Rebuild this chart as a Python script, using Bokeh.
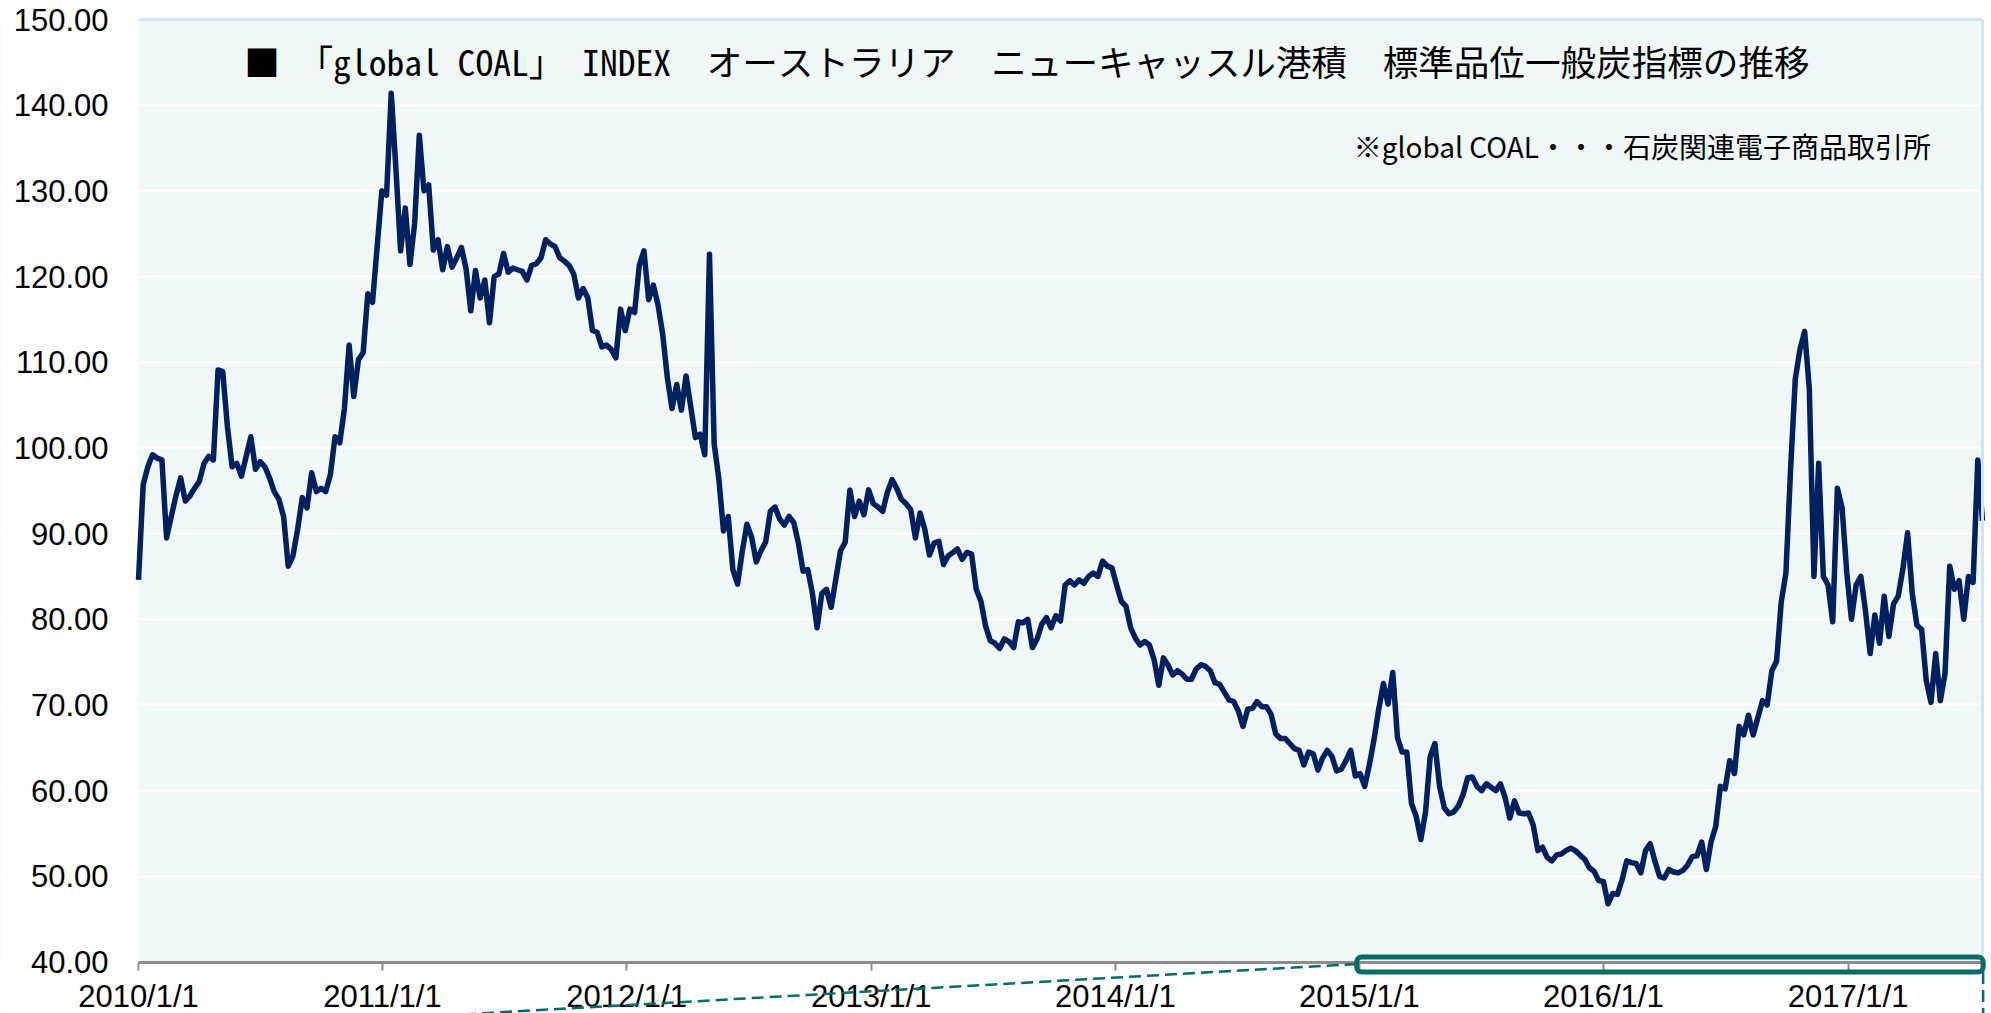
import pandas as pd
from bokeh.plotting import figure
from bokeh.models import Range1d, FixedTicker, Label, BoxAnnotation, Arrow
from bokeh.embed import file_html
from bokeh.resources import INLINE

# ---------------- data (weekly index, USD/t) ----------------
start_date = "2010-01-01"
index_values = [
    84.6, 95.7, 97.8, 99.2, 98.8, 98.6, 89.5, 92.0, 94.4, 96.5,
    93.8, 94.4, 95.3, 96.1, 98.2, 99.0, 98.6, 109.1, 108.9, 102.5,
    97.8, 98.2, 96.7, 99.0, 101.3, 97.5, 98.4, 97.8, 96.5, 94.9,
    94.0, 92.0, 86.2, 87.4, 90.5, 94.2, 93.0, 97.1, 94.9, 95.3,
    94.9, 96.9, 101.3, 100.6, 104.6, 112.0, 106.0, 110.3, 111.1, 118.0,
    117.0, 123.5, 130.0, 129.5, 141.4, 132.6, 123.0, 128.0, 121.4, 126.2,
    136.5, 130.0, 130.7, 123.1, 124.3, 120.8, 123.5, 121.1, 122.2, 123.4,
    120.9, 116.0, 120.7, 117.5, 119.6, 114.6, 120.0, 120.3, 122.7, 120.5,
    121.0, 120.8, 120.6, 119.6, 121.3, 121.5, 122.2, 124.3, 123.8, 123.5,
    122.2, 121.8, 121.3, 120.3, 117.5, 118.6, 117.5, 113.7, 113.5, 111.8,
    112.0, 111.5, 110.5, 116.2, 113.7, 116.2, 115.8, 121.3, 123.0, 117.3,
    119.0, 116.7, 113.3, 108.2, 104.6, 107.4, 104.4, 108.4, 104.8, 101.2,
    101.6, 99.2, 122.6, 100.5, 96.4, 90.3, 92.0, 85.8, 84.1, 87.9,
    91.1, 89.6, 86.7, 88.0, 89.0, 92.6, 93.1, 91.7, 91.0, 92.0,
    91.3, 88.9, 85.6, 85.8, 83.0, 79.0, 83.0, 83.5, 81.4, 84.7,
    88.0, 89.0, 95.1, 92.0, 93.8, 92.2, 95.1, 93.5, 93.1, 92.6,
    94.8, 96.3, 95.3, 94.0, 93.5, 92.8, 89.5, 92.4, 90.5, 87.5,
    88.9, 89.1, 86.4, 87.4, 87.8, 88.2, 87.0, 87.8, 87.6, 83.5,
    82.1, 79.2, 77.5, 77.2, 76.6, 77.7, 77.4, 76.7, 79.7, 79.6,
    80.0, 76.7, 77.7, 79.4, 80.2, 79.0, 80.4, 79.8, 84.0, 84.5,
    84.0, 84.6, 84.2, 85.0, 85.4, 85.0, 86.8, 86.2, 86.0, 84.0,
    82.1, 81.5, 79.0, 77.8, 77.0, 77.4, 77.0, 75.3, 72.3, 75.5,
    74.6, 73.5, 74.0, 73.6, 73.0, 73.0, 74.2, 74.7, 74.5, 74.0,
    72.6, 72.4, 71.5, 70.6, 70.4, 69.3, 67.5, 69.5, 69.6, 70.4,
    69.8, 69.8, 68.9, 66.6, 66.1, 66.1, 65.5, 64.9, 64.7, 63.0,
    64.5, 64.3, 62.4, 63.8, 64.7, 64.0, 62.3, 62.5, 63.5, 64.7,
    61.7, 62.0, 60.5, 63.0, 66.0, 69.5, 72.5, 70.1, 73.8, 66.2,
    64.5, 64.5, 58.5, 57.0, 54.3, 57.5, 64.0, 65.5, 60.5, 58.0,
    57.3, 57.5, 58.2, 59.5, 61.5, 61.6, 60.5, 60.0, 60.8, 60.4,
    60.0, 60.8, 59.2, 56.8, 58.8, 57.4, 57.3, 57.4, 56.0, 53.0,
    53.4, 52.2, 51.8, 52.5, 52.6, 53.0, 53.3, 53.0, 52.5, 52.0,
    51.0, 50.6, 49.5, 49.4, 46.8, 48.0, 47.9, 49.6, 51.8, 51.6,
    51.5, 50.4, 53.0, 53.8, 51.8, 50.0, 49.8, 50.8, 50.5, 50.4,
    50.7, 51.3, 52.3, 52.4, 54.0, 50.8, 54.0, 55.8, 60.5, 60.2,
    63.5, 62.0, 67.5, 66.5, 68.8, 66.5, 68.5, 70.5, 70.0, 74.0,
    75.1, 82.0, 85.4, 97.5, 108.0, 111.5, 113.6, 106.9, 85.0, 98.2,
    85.0, 84.0, 79.7, 95.3, 93.0, 85.5, 80.0, 84.0, 85.0, 81.0,
    76.0, 80.5, 77.2, 82.7, 78.0, 81.8, 82.7, 85.9, 90.1, 83.0,
    79.3, 78.8, 72.8, 70.3, 76.0, 70.5, 73.7, 86.2, 83.5, 84.5,
    80.0, 85.0, 84.3, 98.6, 91.5,
]

x_tick_dates = ["2010-01-01", "2011-01-01", "2012-01-01", "2013-01-01",
                "2014-01-01", "2015-01-01", "2016-01-01", "2017-01-01"]
x_tick_labels = ["2010/1/1", "2011/1/1", "2012/1/1", "2013/1/1",
                 "2014/1/1", "2015/1/1", "2016/1/1", "2017/1/1"]
y_ticks = [40, 50, 60, 70, 80, 90, 100, 110, 120, 130, 140, 150]
y_tick_labels = ["40.00", "50.00", "60.00", "70.00", "80.00", "90.00",
                 "100.00", "110.00", "120.00", "130.00", "140.00", "150.00"]

title_text = "■　「global COAL」 INDEX　オーストラリア　ニューキャッスル港積　標準品位一般炭指標の推移"
note_text = "※global COAL・・・石炭関連電子商品取引所"

DAY = 86400000.0


def ms(s):
    return pd.Timestamp(s).value / 1e6


dates = pd.date_range(start_date, periods=len(index_values), freq="7D")

# ---------------- figure (frame covers the whole canvas) ----------------
x0 = ms(start_date)
canvas_left = x0 - 206.4 * DAY        # canvas left edge
canvas_right = x0 + 2771.5 * DAY      # canvas right edge
plot_right = ms("2017-07-21")         # right edge of shaded plot area
y_bottom, y_top = 33.99, 152.22       # canvas bottom / top in data units

p = figure(width=1991, height=1013, x_axis_type="datetime",
           output_backend="svg", toolbar_location=None,
           x_range=Range1d(canvas_left, canvas_right),
           y_range=Range1d(y_bottom, y_top),
           min_border_left=0, min_border_right=0,
           min_border_top=0, min_border_bottom=0,
           background_fill_color="#eff8f7", border_fill_color="white",
           outline_line_color=None)

# white surround of the shaded plot area
for kw in (dict(top=40), dict(bottom=150), dict(right=x0), dict(left=plot_right)):
    p.add_layout(BoxAnnotation(fill_color="white", fill_alpha=1, line_alpha=0,
                               level="underlay", **kw))

p.line(dates, index_values, line_color="#002060", line_width=5.5,
       line_join="round")

# x axis drawn at y = 40
xa = p.xaxis[0]
xa.fixed_location = 40
xa.bounds = (x0, plot_right)
xa.ticker = FixedTicker(ticks=[ms(d) for d in x_tick_dates])
xa.major_label_overrides = {ms(d): lab for d, lab in zip(x_tick_dates, x_tick_labels)}
xa.axis_line_color = "#8c8c8c"
xa.axis_line_width = 3
xa.major_tick_line_color = "#8c8c8c"
xa.major_tick_line_width = 2
xa.major_tick_in = 0
xa.major_tick_out = 8
xa.minor_tick_line_color = None
xa.major_label_standoff = 9
xa.major_label_text_font = "Liberation Sans"
xa.major_label_text_font_size = "31px"
xa.major_label_text_color = "black"

# y axis drawn at x = 2010/1/1
ya = p.yaxis[0]
ya.fixed_location = x0
ya.bounds = (40, 150)
ya.ticker = FixedTicker(ticks=y_ticks)
ya.major_label_overrides = {v: lab for v, lab in zip(y_ticks, y_tick_labels)}
ya.axis_line_color = None
ya.major_tick_line_color = None
ya.minor_tick_line_color = None
ya.major_tick_in = 0
ya.major_tick_out = 0
ya.major_label_standoff = 30
ya.major_label_text_font = "Liberation Sans"
ya.major_label_text_font_size = "31px"
ya.major_label_text_color = "black"

p.xgrid.visible = False
p.ygrid.grid_line_color = "white"
p.ygrid.grid_line_width = 2.5

# light blue border of the plot area (top, right)
border = "#cfe6f5"
p.segment(x0=[x0], y0=[150], x1=[plot_right], y1=[150],
          line_color=border, line_width=3)
p.segment(x0=[plot_right], y0=[40], x1=[plot_right], y1=[150],
          line_color=border, line_width=3)

# title and note inside the plot
p.add_layout(Label(x=ms("2010-06-08"), y=145.21, text=title_text,
                   text_font="Noto Sans Mono CJK JP, Noto Sans CJK JP",
                   text_font_size="35.6px", text_color="black",
                   text_align="left", text_baseline="middle"))
p.add_layout(Label(x=ms("2017-05-05"), y=135.18, text=note_text,
                   text_font="Noto Sans CJK JP", text_font_size="28px",
                   text_color="black", text_align="right", text_baseline="middle"))

# callout decoration (rounded box on the axis and dashed leader lines)
teal = "#046b66"
box_left, box_right = ms("2014-12-28"), ms("2017-07-22")
p.add_layout(Arrow(x_start=box_left, y_start=39.77,
                   x_end=x0, y_end=31.75, end=None,
                   line_color=teal, line_width=2.5, line_dash="12 6",
                   level="overlay"))
p.add_layout(Arrow(x_start=box_right, y_start=38.83,
                   x_end=box_right, y_end=y_bottom, end=None,
                   line_color=teal, line_width=2.5, line_dash="12 6",
                   level="overlay"))
p.add_layout(BoxAnnotation(left=box_left, right=box_right,
                           bottom=38.83, top=40.58, fill_color=None, fill_alpha=0,
                           line_color=teal, line_alpha=1, line_width=5,
                           border_radius=5, level="overlay"))

open("out.html", "w").write(file_html(p, INLINE))
